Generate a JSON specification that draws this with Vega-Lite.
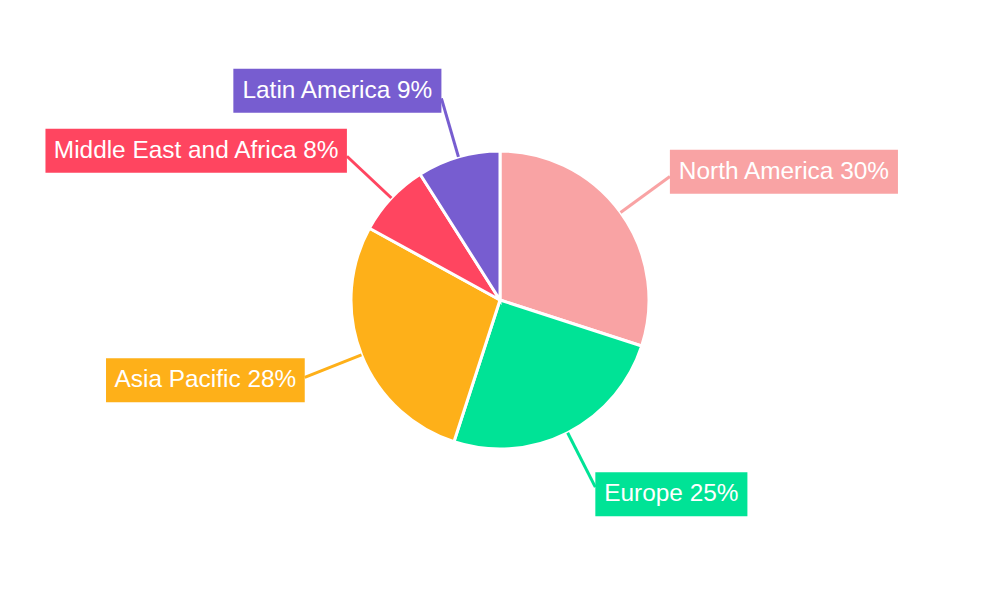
{
  "$schema": "https://vega.github.io/schema/vega-lite/v6.json",
  "width": 1000,
  "height": 600,
  "autosize": {"type": "fit", "contains": "padding"},
  "padding": 0,
  "background": "white",
  "config": {"view": {"stroke": null}},
  "data": {
    "values": [
      {"region": "North America", "share": 30},
      {"region": "Europe", "share": 25},
      {"region": "Asia Pacific", "share": 28},
      {"region": "Middle East and Africa", "share": 8},
      {"region": "Latin America", "share": 9}
    ]
  },
  "transform": [
    {"window": [{"op": "row_number", "as": "idx"}, {"op": "sum", "field": "share", "as": "cum"}], "frame": [null, 0]},
    {"joinaggregate": [{"op": "sum", "field": "share", "as": "total"}]},
    {"calculate": "2*PI*(datum.cum - datum.share/2)/datum.total", "as": "a"},
    {"calculate": "datum.region + ' ' + datum.share + '%'", "as": "label"},
    {"calculate": "149*sin(datum.a)", "as": "lx1"},
    {"calculate": "149*cos(datum.a)", "as": "ly1"},
    {"calculate": "210*sin(datum.a)", "as": "lx2"},
    {"calculate": "210*cos(datum.a)", "as": "ly2"},
    {"calculate": "0.024*(556*length(datum.label) - 334*length(replace(datum.label, regexp('[^ilj]','g'), '')) - 278*length(replace(datum.label, regexp('[^tf ]','g'), '')) - 223*length(replace(datum.label, regexp('[^r]','g'), '')) - 56*length(replace(datum.label, regexp('[^cs]','g'), '')) + 111*length(replace(datum.label, regexp('[^AEP]','g'), '')) + 166*length(replace(datum.label, regexp('[^N]','g'), '')) + 277*length(replace(datum.label, regexp('[^mM]','g'), '')) + 333*length(replace(datum.label, regexp('[^%]','g'), '')))", "as": "tw"},
    {"calculate": "datum.lx2 >= 0 ? datum.lx2 : datum.lx2 - datum.tw - 20", "as": "bx1"},
    {"calculate": "datum.lx2 >= 0 ? datum.lx2 + datum.tw + 20 : datum.lx2", "as": "bx2"},
    {"calculate": "218*cos(datum.a)", "as": "by"},
    {"calculate": "datum.by - 22", "as": "by1"},
    {"calculate": "datum.by + 22", "as": "by2"},
    {"calculate": "(datum.bx1 + datum.bx2)/2", "as": "bxc"}
  ],
  "layer": [
    {
      "mark": {"type": "arc", "outerRadius": 149, "stroke": "white", "strokeWidth": 3},
      "encoding": {
        "theta": {"field": "share", "type": "quantitative", "stack": true},
        "order": {"field": "idx", "type": "quantitative"},
        "color": {
          "field": "region",
          "type": "nominal",
          "scale": {
            "domain": ["North America", "Europe", "Asia Pacific", "Middle East and Africa", "Latin America"],
            "range": ["#F9A3A4", "#00E396", "#FEB019", "#FF4560", "#775DD0"]
          },
          "legend": null
        }
      }
    },
    {
      "mark": {"type": "rule", "strokeWidth": 3},
      "encoding": {
        "x": {"field": "lx1", "type": "quantitative", "scale": {"domain": [-500, 500], "nice": false, "zero": false}, "axis": null},
        "y": {"field": "ly1", "type": "quantitative", "scale": {"domain": [-300, 300], "nice": false, "zero": false}, "axis": null},
        "x2": {"field": "lx2"},
        "y2": {"field": "ly2"},
        "color": {"field": "region", "type": "nominal", "legend": null}
      }
    },
    {
      "mark": {"type": "rect"},
      "encoding": {
        "x": {"field": "bx1", "type": "quantitative", "scale": {"domain": [-500, 500], "nice": false, "zero": false}, "axis": null},
        "x2": {"field": "bx2"},
        "y": {"field": "by1", "type": "quantitative", "scale": {"domain": [-300, 300], "nice": false, "zero": false}, "axis": null},
        "y2": {"field": "by2"},
        "color": {"field": "region", "type": "nominal", "legend": null}
      }
    },
    {
      "mark": {"type": "text", "font": "Liberation Sans", "fontSize": 24.4, "color": "white", "align": "center", "baseline": "middle"},
      "encoding": {
        "x": {"field": "bxc", "type": "quantitative", "scale": {"domain": [-500, 500], "nice": false, "zero": false}, "axis": null},
        "y": {"field": "by", "type": "quantitative", "scale": {"domain": [-300, 300], "nice": false, "zero": false}, "axis": null},
        "text": {"field": "label", "type": "nominal"}
      }
    }
  ]
}
